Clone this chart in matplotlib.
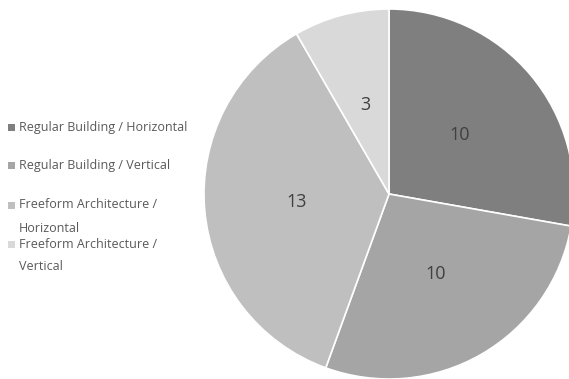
import matplotlib.pyplot as plt
from matplotlib.patches import Rectangle

categories = ["Regular Building / Horizontal", "Regular Building / Vertical",
              "Freeform Architecture /\nHorizontal", "Freeform Architecture /\nVertical"]
values = [10, 10, 13, 3]
colors = ["#7f7f7f", "#a5a5a5", "#bfbfbf", "#d9d9d9"]

W, H = 569, 379
fig = plt.figure(figsize=(W / 100, H / 100), dpi=100)

# pie centre (389, 194) px, radius 185 px
cx, cy, r = 389, 194, 185
ax = fig.add_axes([(cx - r) / W, (H - cy - r) / H, 2 * r / W, 2 * r / H])
wedges, texts = ax.pie(values, colors=colors, startangle=90, counterclock=False,
                       labels=[str(v) for v in values], labeldistance=0.5,
                       wedgeprops=dict(edgecolor="white", linewidth=1.2),
                       textprops=dict(fontsize=13, color="#404040", family="Open Sans"))
for t in texts:
    t.set_ha("center")
    t.set_va("center")
for w in wedges:
    w.set_clip_on(False)
ax.set_xlim(-1, 1)
ax.set_ylim(-1, 1)
ax.set_aspect("equal")
ax.axis("off")

# legend on the left, long names wrapped onto two lines
legend_y = [128, 165, 205, 244]
for name, col, y in zip(categories, colors, legend_y):
    fig.patches.append(Rectangle((8 / W, (H - y - 3.5) / H), 7 / W, 7 / H,
                                 transform=fig.transFigure, facecolor=col, edgecolor="none"))
    for k, line in enumerate(name.split("\n")):
        fig.text(19 / W, (H - y - 23 * k) / H, line, fontsize=9, color="#595959",
                 family="Open Sans", va="center")

fig.savefig("out.png", dpi=100)
